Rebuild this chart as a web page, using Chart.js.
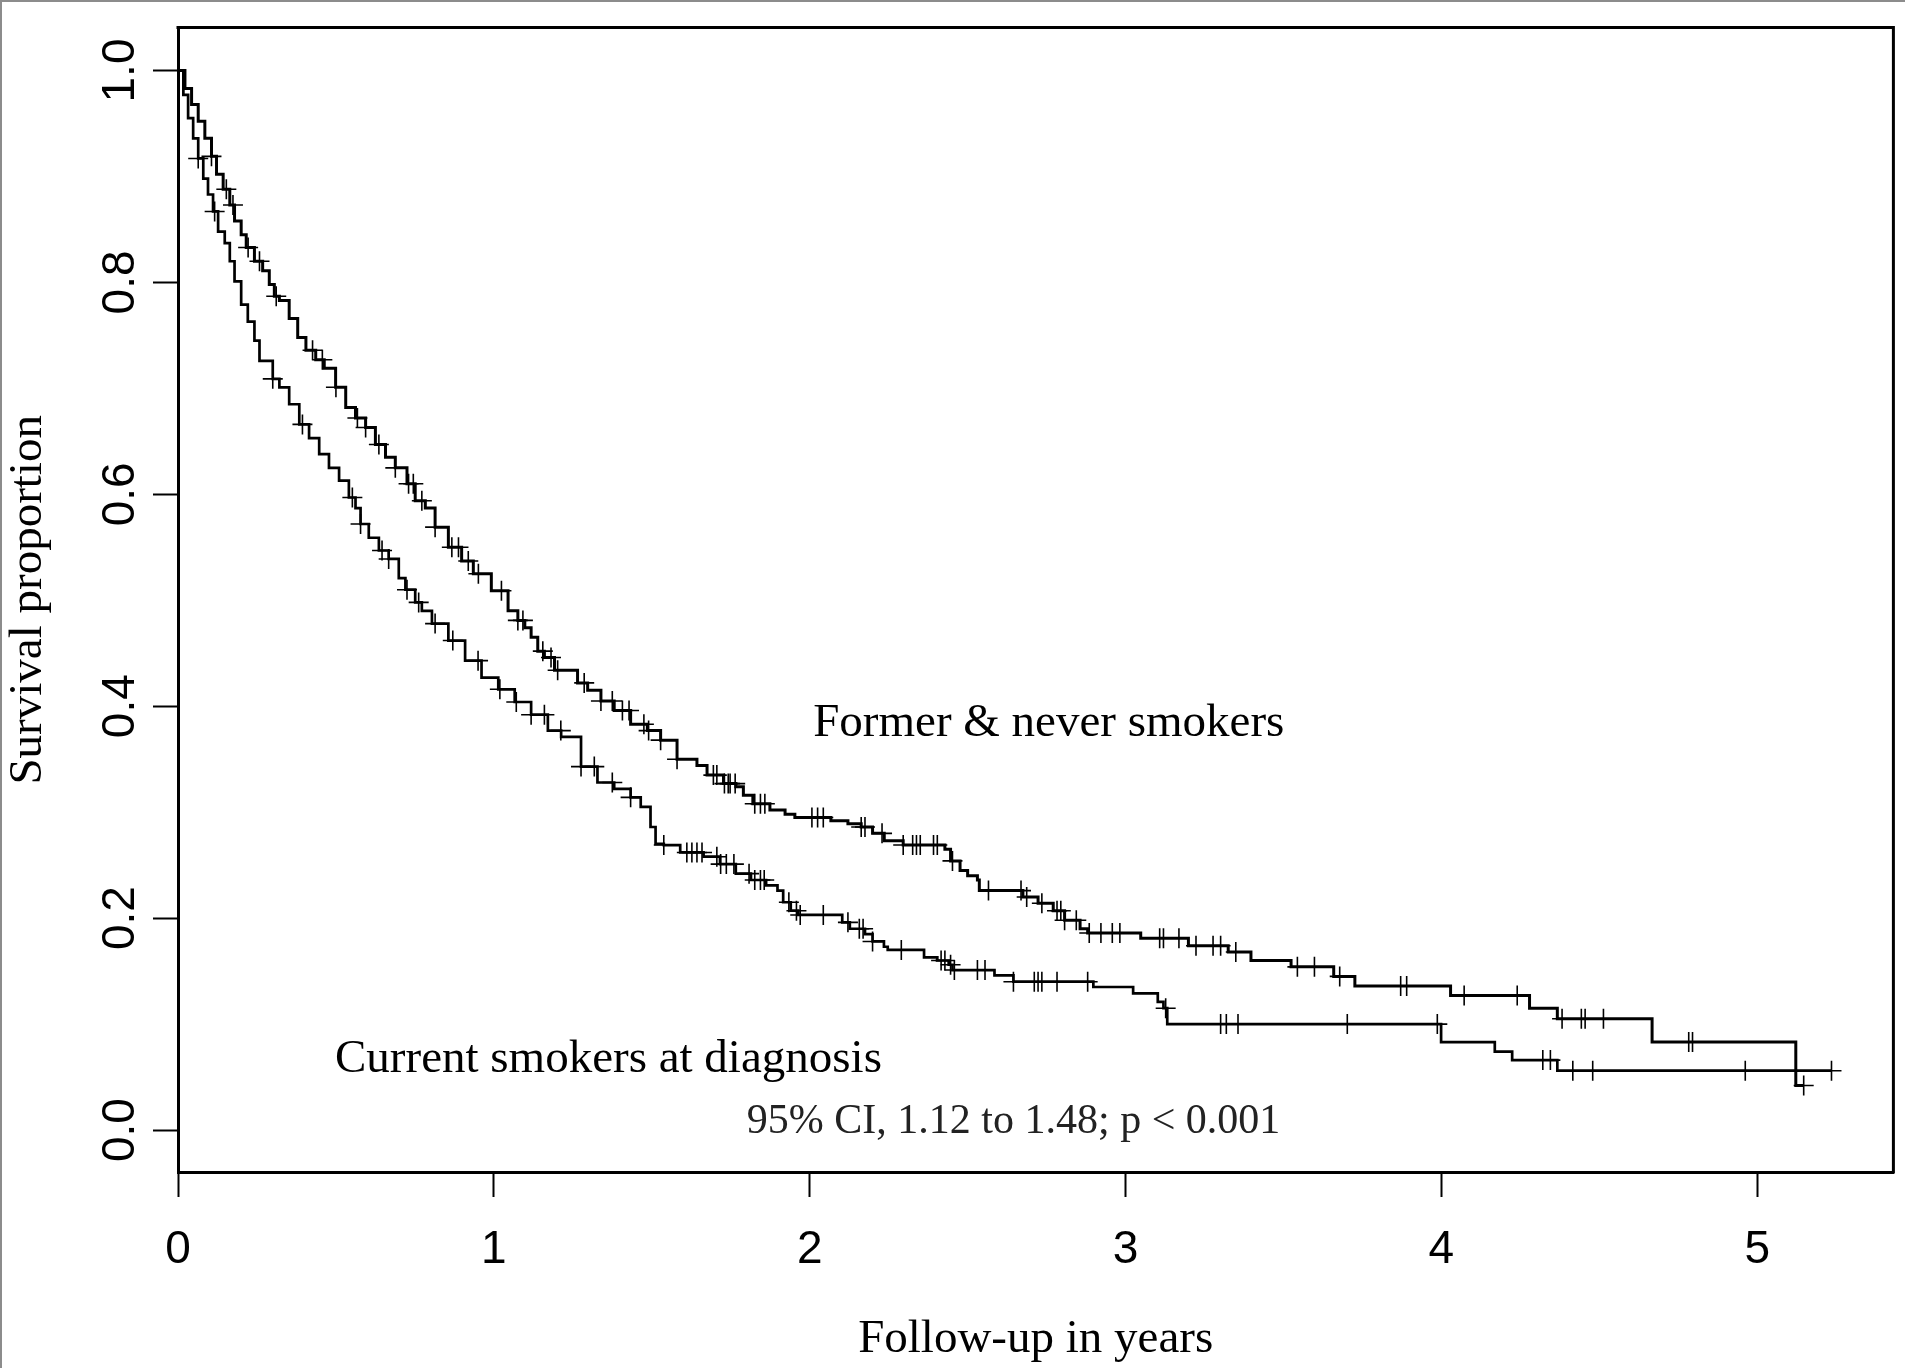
<!DOCTYPE html>
<html>
<head>
<meta charset="utf-8">
<script src="https://cdn.jsdelivr.net/npm/chart.js@4.4.0/dist/chart.umd.min.js"></script>
<style>
html,body{margin:0;padding:0;background:#fff;}
#wrap{position:relative;width:1905px;height:1368px;overflow:hidden;}
canvas{display:block;}
</style>
</head>
<body>
<div id="wrap"><canvas id="c" width="1905" height="1368"></canvas></div>
<script>
// ---- Data ----
const xTickValues = [0, 1, 2, 3, 4, 5];
const yTickValues = [0.0, 0.2, 0.4, 0.6, 0.8, 1.0];

// Former & never smokers: event times (years) and survival after each step
const formerTimes = [0,0.022,0.043,0.064,0.085,0.106,0.122,0.143,0.164,0.179,0.200,0.216,0.242,0.268,0.289,0.305,0.321,0.352,0.379,0.405,0.436,0.463,0.499,0.531,0.562,0.594,0.625,0.657,0.688,0.725,0.751,0.783,0.814,0.856,0.898,0.935,0.992,1.045,1.076,1.098,1.118,1.139,1.160,1.192,1.265,1.297,1.339,1.381,1.433,1.486,1.528,1.580,1.643,1.675,1.727,1.766,1.790,1.820,1.874,1.922,1.953,2.067,2.121,2.163,2.199,2.236,2.296,2.428,2.446,2.476,2.500,2.531,2.537,2.675,2.723,2.771,2.807,2.856,2.880,3.048,3.199,3.325,3.397,3.524,3.659,3.726,4.029,4.279,4.367,4.667,5.122,5.147];
const formerSurv  = [1.000,0.983,0.968,0.952,0.936,0.919,0.902,0.888,0.873,0.858,0.845,0.833,0.820,0.811,0.798,0.787,0.783,0.766,0.748,0.736,0.727,0.719,0.701,0.682,0.672,0.663,0.647,0.635,0.625,0.610,0.594,0.587,0.569,0.550,0.537,0.525,0.509,0.490,0.481,0.474,0.465,0.452,0.446,0.434,0.422,0.415,0.405,0.396,0.383,0.377,0.368,0.350,0.344,0.335,0.327,0.324,0.316,0.308,0.302,0.298,0.295,0.292,0.289,0.286,0.280,0.273,0.269,0.265,0.254,0.245,0.240,0.236,0.226,0.220,0.214,0.207,0.198,0.190,0.186,0.181,0.174,0.168,0.160,0.154,0.145,0.136,0.127,0.115,0.105,0.083,0.042,0.042];

// Current smokers at diagnosis
const currentTimes = [0,0.017,0.032,0.048,0.064,0.080,0.095,0.111,0.127,0.148,0.164,0.179,0.200,0.221,0.242,0.258,0.300,0.321,0.352,0.384,0.415,0.447,0.478,0.510,0.541,0.562,0.578,0.604,0.636,0.667,0.699,0.720,0.751,0.772,0.804,0.856,0.909,0.961,1.014,1.066,1.118,1.171,1.213,1.276,1.328,1.381,1.433,1.465,1.496,1.512,1.538,1.590,1.664,1.716,1.766,1.814,1.862,1.898,1.916,1.940,1.964,2.103,2.127,2.175,2.199,2.235,2.247,2.362,2.404,2.440,2.452,2.585,2.645,2.898,3.024,3.102,3.120,3.132,3.999,4.169,4.224,4.367,5.235];
const currentSurv  = [1.000,0.977,0.955,0.936,0.917,0.898,0.883,0.867,0.848,0.837,0.820,0.801,0.779,0.763,0.745,0.726,0.709,0.701,0.685,0.666,0.653,0.638,0.625,0.613,0.597,0.587,0.572,0.559,0.547,0.539,0.521,0.510,0.498,0.490,0.478,0.462,0.443,0.427,0.416,0.404,0.392,0.377,0.371,0.343,0.328,0.322,0.314,0.305,0.286,0.270,0.269,0.262,0.258,0.251,0.242,0.236,0.231,0.226,0.215,0.207,0.203,0.196,0.190,0.185,0.178,0.173,0.170,0.163,0.160,0.156,0.151,0.146,0.140,0.135,0.129,0.121,0.115,0.100,0.083,0.074,0.066,0.056,0.056];

// Censoring times (+ marks)
const formerCensorTimes = [0.106,0.153,0.174,0.222,0.258,0.311,0.426,0.457,0.500,0.568,0.594,0.636,0.688,0.730,0.745,0.772,0.814,0.867,0.888,0.919,0.951,1.024,1.076,1.092,1.155,1.181,1.202,1.286,1.339,1.375,1.407,1.428,1.475,1.490,1.528,1.580,1.695,1.706,1.730,1.742,1.748,1.764,1.826,1.844,1.858,2.007,2.025,2.043,2.163,2.175,2.229,2.296,2.326,2.338,2.350,2.392,2.404,2.452,2.566,2.669,2.687,2.735,2.783,2.795,2.807,2.844,2.885,2.922,2.958,2.982,3.108,3.120,3.169,3.223,3.277,3.301,3.349,3.544,3.598,3.678,3.871,3.890,4.072,4.240,4.382,4.443,4.455,4.513,4.783,4.795,5.147];
const currentCensorTimes = [0.064,0.116,0.300,0.394,0.552,0.578,0.646,0.667,0.725,0.762,0.814,0.870,0.950,1.019,1.071,1.118,1.160,1.212,1.276,1.318,1.375,1.433,1.538,1.611,1.627,1.643,1.659,1.706,1.718,1.736,1.760,1.808,1.826,1.844,1.856,1.934,1.958,1.970,2.043,2.121,2.157,2.169,2.199,2.290,2.416,2.428,2.446,2.458,2.531,2.555,2.645,2.711,2.723,2.735,2.783,2.880,3.127,3.301,3.319,3.356,3.702,3.987,4.321,4.345,4.416,4.479,4.962,5.235];

const annotationTexts = {
  former: 'Former & never smokers',
  current: 'Current smokers at diagnosis',
  ci: '95% CI, 1.12 to 1.48; p < 0.001'
};

// ---- helpers ----
function survAt(times, surv, t) {
  let v = surv[0];
  for (let i = 0; i < times.length; i++) {
    if (times[i] <= t + 1e-9) v = surv[i]; else break;
  }
  return v;
}
function toPoints(times, vals) { return times.map((t, i) => ({x: t, y: vals[i]})); }
function censorPoints(ct, times, surv) { return ct.map(t => ({x: t, y: survAt(times, surv, t)})); }

// ---- layout / style (kept apart from data) ----
const SERIF = '"Liberation Serif", "Times New Roman", serif';
const SANS = '"Liberation Sans", Arial, sans-serif';
const annotPos = {
  former:  {x: 2.011, y: 0.3723, size: 47, align: 'left', color: '#000'},
  current: {x: 0.497, y: 0.0547, size: 47, align: 'left', color: '#000'},
  ci:      {x: 3.490, y: -0.0028, size: 42, align: 'right', color: '#222'}
};

const framePlugin = {
  id: 'frame',
  beforeDraw(chart) {
    const c = chart.ctx;
    c.save();
    c.fillStyle = '#fff';
    c.fillRect(0, 0, chart.width, chart.height);
    c.strokeStyle = '#8c8c8c';
    c.lineWidth = 2;
    c.beginPath();
    c.moveTo(1, chart.height); c.lineTo(1, 1); c.lineTo(chart.width, 1);
    c.stroke();
    c.restore();
  },
  afterDraw(chart) {
    const a = chart.chartArea;
    const c = chart.ctx;
    c.save();
    c.strokeStyle = '#000';
    c.lineWidth = 3;
    c.beginPath();
    c.moveTo(a.left - 1.5, a.top);
    c.lineTo(a.right, a.top);
    c.lineTo(a.right, a.bottom + 1.5);
    c.stroke();
    c.restore();
  }
};

const annotPlugin = {
  id: 'annot',
  afterDatasetsDraw(chart) {
    const c = chart.ctx;
    const xs = chart.scales.x, ys = chart.scales.y;
    c.save();
    for (const key of Object.keys(annotationTexts)) {
      const p = annotPos[key];
      c.font = p.size + 'px ' + SERIF;
      c.fillStyle = p.color;
      c.textAlign = p.align;
      c.textBaseline = 'alphabetic';
      c.fillText(annotationTexts[key], xs.getPixelForValue(p.x), ys.getPixelForValue(p.y));
    }
    c.restore();
  }
};

const lineBase = {showLine: true, stepped: 'before', borderColor: '#000', pointRadius: 0, pointHoverRadius: 0, fill: false, tension: 0};
const censorBase = {showLine: false, pointStyle: 'cross', pointRadius: 10, pointHoverRadius: 10, borderColor: '#000', backgroundColor: '#000', borderWidth: 1.6};

new Chart(document.getElementById('c').getContext('2d'), {
  type: 'scatter',
  data: {
    datasets: [
      Object.assign({label: 'Former & never smokers', data: toPoints(formerTimes, formerSurv), borderWidth: 3}, lineBase),
      Object.assign({label: 'Current smokers at diagnosis', data: toPoints(currentTimes, currentSurv), borderWidth: 2.7}, lineBase),
      Object.assign({label: 'Former censored', data: censorPoints(formerCensorTimes, formerTimes, formerSurv)}, censorBase),
      Object.assign({label: 'Current censored', data: censorPoints(currentCensorTimes, currentTimes, currentSurv)}, censorBase)
    ]
  },
  options: {
    responsive: false,
    animation: false,
    devicePixelRatio: 1,
    layout: {padding: {top: 26, right: 2, left: 0, bottom: 0}},
    plugins: {legend: {display: false}, tooltip: {enabled: false}},
    scales: {
      x: {
        type: 'linear', position: 'bottom', min: 0, max: 5.431,
        afterBuildTicks: s => { s.ticks = xTickValues.map(v => ({value: v})); },
        afterFit: s => { s.height = 196; },
        ticks: {font: {family: SANS, size: 46}, color: '#000', padding: 26, autoSkip: false, minRotation: 0, maxRotation: 0, callback: v => String(v)},
        grid: {display: true, drawOnChartArea: false, drawTicks: true, tickLength: 25, tickWidth: 2, tickColor: '#000'},
        border: {display: true, color: '#000', width: 3},
        title: {display: true, text: 'Follow-up in years', font: {family: SERIF, size: 47}, color: '#000', padding: {top: 4, bottom: 0}}
      },
      y: {
        type: 'linear', position: 'left', min: -0.0396, max: 1.0405,
        afterBuildTicks: s => { s.ticks = yTickValues.map(v => ({value: v})); },
        afterFit: s => { s.width = 178; },
        ticks: {font: {family: SANS, size: 46}, color: '#000', padding: 0, autoSkip: false, minRotation: 90, maxRotation: 90, crossAlign: 'center', callback: v => Number(v).toFixed(1)},
        grid: {display: true, drawOnChartArea: false, drawTicks: true, tickLength: 25, tickWidth: 2, tickColor: '#000'},
        border: {display: true, color: '#000', width: 3},
        title: {display: true, text: 'Survival proportion', font: {family: SERIF, size: 47}, color: '#000', padding: {top: 0, bottom: 0}}
      }
    }
  },
  plugins: [framePlugin, annotPlugin]
});
</script>
</body>
</html>
